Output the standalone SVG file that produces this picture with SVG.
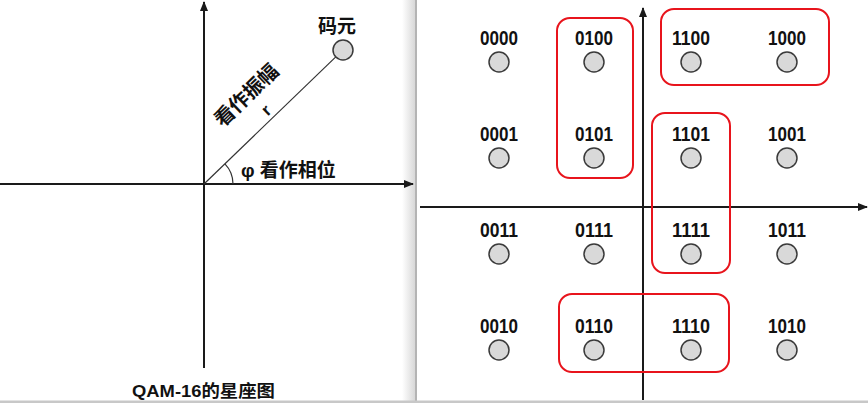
<svg xmlns="http://www.w3.org/2000/svg" width="868" height="403" viewBox="0 0 868 403">
<defs>
<style>
.ax{stroke:#1a1a1a;stroke-width:2;fill:none}
.pt{fill:#d9d9d9;stroke:#3a3a3a;stroke-width:1.5}
.lb{font-family:"Liberation Sans","Noto Sans CJK SC",sans-serif;font-weight:bold;font-size:20px;fill:#111;text-anchor:middle}
.cj{font-family:"Liberation Sans","Noto Sans CJK SC",sans-serif;font-weight:bold;fill:#111}
.grp{fill:none;stroke:#e8141c;stroke-width:2}
</style>
<marker id="ah" markerWidth="10" markerHeight="8" refX="9" refY="4" orient="auto" markerUnits="userSpaceOnUse">
<path d="M0,0 L10,4 L0,8 Z" fill="#1a1a1a"/>
</marker>
<linearGradient id="sh" x1="0" y1="0" x2="1" y2="0">
<stop offset="0" stop-color="#ffffff"/>
<stop offset="1" stop-color="#d8d8d8"/>
</linearGradient>
</defs>
<rect width="868" height="403" fill="#ffffff"/>
<rect x="402" y="0" width="13" height="401" fill="url(#sh)"/>
<rect x="415" y="0" width="2" height="401" fill="#b4b4b4"/>
<rect x="0" y="400.5" width="868" height="2.5" fill="#c8c8c8"/>

<g id="connectors">
<line class="ax" x1="0" y1="184" x2="413" y2="184" marker-end="url(#ah)"/>
<line class="ax" x1="204" y1="368" x2="204" y2="2" marker-end="url(#ah)"/>
<line x1="204" y1="184" x2="335.8" y2="56.9" stroke="#333" stroke-width="1.2"/>
<path d="M233,184 A29,29 0 0 0 224.9,163.9" fill="none" stroke="#333" stroke-width="1.2"/>
<line class="ax" x1="420" y1="207" x2="867" y2="207" marker-end="url(#ah)"/>
<line class="ax" x1="643" y1="400" x2="643" y2="8" marker-end="url(#ah)"/>
</g>

<g id="symbol">
<circle class="pt" cx="343" cy="50" r="10"/>
<text class="cj" x="337" y="33" font-size="19" text-anchor="middle">码元</text>
</g>
<g id="amplitude-label">
<text class="cj" font-size="20" text-anchor="middle" transform="translate(247,96) rotate(-44)" y="6">看作振幅</text>
<text class="cj" font-size="17" text-anchor="middle" transform="translate(266,110) rotate(-44)" y="6">r</text>
</g>
<g id="phase-label">
<text class="cj" x="241" y="177" font-size="19">φ 看作相位</text>
</g>
<g id="caption">
<text class="cj" x="132" y="397" font-size="17" textLength="143" lengthAdjust="spacingAndGlyphs">QAM-16的星座图</text>
</g>

<g id="group-0100-0101"><rect class="grp" x="557" y="18" width="76" height="160" rx="13"/></g>
<g id="group-1100-1000"><rect class="grp" x="661" y="9" width="168" height="76" rx="13"/></g>
<g id="group-1101-1111"><rect class="grp" x="652" y="113" width="78" height="160" rx="13"/></g>
<g id="group-0110-1110"><rect class="grp" x="559" y="294" width="170" height="78" rx="13"/></g>

<g id="p0000"><text class="lb" x="499" y="45" textLength="38" lengthAdjust="spacingAndGlyphs">0000</text><circle class="pt" cx="499" cy="62" r="10"/></g>
<g id="p0100"><text class="lb" x="594" y="45" textLength="38" lengthAdjust="spacingAndGlyphs">0100</text><circle class="pt" cx="594" cy="62" r="10"/></g>
<g id="p1100"><text class="lb" x="691" y="45" textLength="38" lengthAdjust="spacingAndGlyphs">1100</text><circle class="pt" cx="691" cy="62" r="10"/></g>
<g id="p1000"><text class="lb" x="787" y="45" textLength="38" lengthAdjust="spacingAndGlyphs">1000</text><circle class="pt" cx="787" cy="62" r="10"/></g>

<g id="p0001"><text class="lb" x="499" y="141" textLength="38" lengthAdjust="spacingAndGlyphs">0001</text><circle class="pt" cx="499" cy="158" r="10"/></g>
<g id="p0101"><text class="lb" x="594" y="141" textLength="38" lengthAdjust="spacingAndGlyphs">0101</text><circle class="pt" cx="594" cy="158" r="10"/></g>
<g id="p1101"><text class="lb" x="691" y="141" textLength="38" lengthAdjust="spacingAndGlyphs">1101</text><circle class="pt" cx="691" cy="158" r="10"/></g>
<g id="p1001"><text class="lb" x="787" y="141" textLength="38" lengthAdjust="spacingAndGlyphs">1001</text><circle class="pt" cx="787" cy="158" r="10"/></g>

<g id="p0011"><text class="lb" x="499" y="237" textLength="38" lengthAdjust="spacingAndGlyphs">0011</text><circle class="pt" cx="499" cy="254" r="10"/></g>
<g id="p0111"><text class="lb" x="594" y="237" textLength="38" lengthAdjust="spacingAndGlyphs">0111</text><circle class="pt" cx="594" cy="254" r="10"/></g>
<g id="p1111"><text class="lb" x="691" y="237" textLength="38" lengthAdjust="spacingAndGlyphs">1111</text><circle class="pt" cx="691" cy="254" r="10"/></g>
<g id="p1011"><text class="lb" x="787" y="237" textLength="38" lengthAdjust="spacingAndGlyphs">1011</text><circle class="pt" cx="787" cy="254" r="10"/></g>

<g id="p0010"><text class="lb" x="499" y="333" textLength="38" lengthAdjust="spacingAndGlyphs">0010</text><circle class="pt" cx="499" cy="350" r="10"/></g>
<g id="p0110"><text class="lb" x="594" y="333" textLength="38" lengthAdjust="spacingAndGlyphs">0110</text><circle class="pt" cx="594" cy="350" r="10"/></g>
<g id="p1110"><text class="lb" x="691" y="333" textLength="38" lengthAdjust="spacingAndGlyphs">1110</text><circle class="pt" cx="691" cy="350" r="10"/></g>
<g id="p1010"><text class="lb" x="787" y="333" textLength="38" lengthAdjust="spacingAndGlyphs">1010</text><circle class="pt" cx="787" cy="350" r="10"/></g>
</svg>
